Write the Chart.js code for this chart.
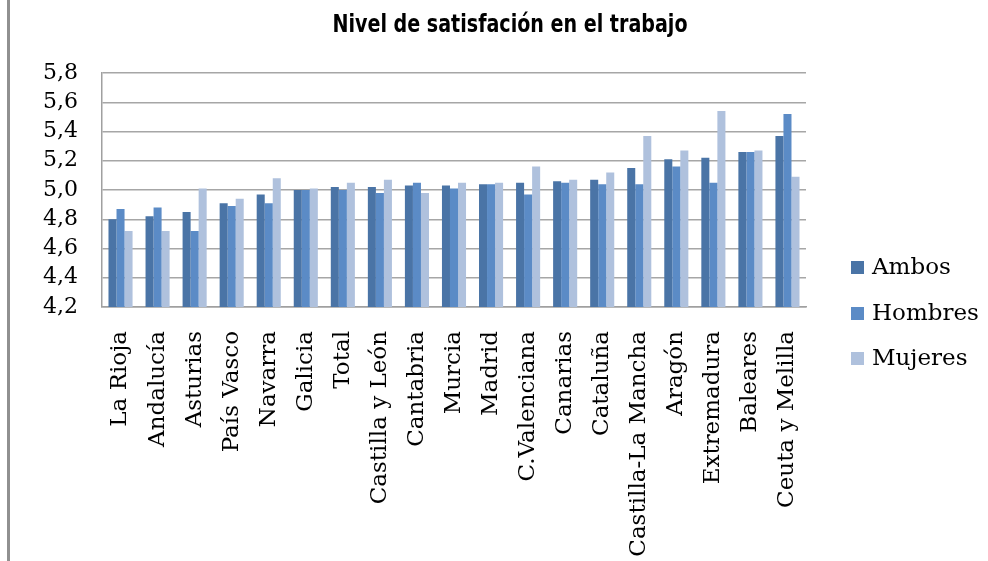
<!DOCTYPE html>
<html lang="es">
<head>
<meta charset="UTF-8">
<title>Nivel de satisfación en el trabajo</title>
<script src="https://cdn.jsdelivr.net/npm/chart.js@4.4.1/dist/chart.umd.min.js"></script>
<style>
	html, body { margin: 0; padding: 0; background: #fff; }
	#wrap { position: relative; width: 988px; height: 561px; }
	#borde { position: absolute; left: 7px; top: 0; width: 3px; height: 561px; background: #909090; }
</style>
</head>
<body>
	<div id="wrap">
		<div id="borde"></div>
		<canvas id="satchart" width="988" height="561"></canvas>
	</div>

	<script>
		// datos
		var titulo = 'Nivel de satisfación en el trabajo';
		var categorias = ['La Rioja', 'Andalucía', 'Asturias', 'País Vasco', 'Navarra', 'Galicia', 'Total',
			'Castilla y León', 'Cantabria', 'Murcia', 'Madrid', 'C.Valenciana', 'Canarias', 'Cataluña',
			'Castilla-La Mancha', 'Aragón', 'Extremadura', 'Baleares', 'Ceuta y Melilla'];
		var ambos   = [4.80, 4.82, 4.85, 4.91, 4.97, 5.00, 5.02, 5.02, 5.03, 5.03, 5.04, 5.05, 5.06, 5.07, 5.15, 5.21, 5.22, 5.26, 5.37];
		var hombres = [4.87, 4.88, 4.72, 4.89, 4.91, 5.00, 5.00, 4.98, 5.05, 5.01, 5.04, 4.97, 5.05, 5.04, 5.04, 5.16, 5.05, 5.26, 5.52];
		var mujeres = [4.72, 4.72, 5.01, 4.94, 5.08, 5.01, 5.05, 5.07, 4.98, 5.05, 5.05, 5.16, 5.07, 5.12, 5.37, 5.27, 5.54, 5.27, 5.09];
		var series = ['Ambos', 'Hombres', 'Mujeres'];
		var yMin = 4.2, yMax = 5.8, yPaso = 0.2;

		var colores = ['#4a74a6', '#5b8bc6', '#afc1dd'];
		var serif = "'DejaVu Serif', 'Liberation Serif', serif";

		// titulo (estrechado a mano) y leyenda
		var extras = {
			id : 'extras',
			afterDraw : function(chart) {
				var ctx = chart.ctx;
				ctx.save();
				ctx.fillStyle = '#000';
				ctx.textAlign = 'center';
				ctx.textBaseline = 'alphabetic';
				ctx.font = "bold 24px 'DejaVu Sans', sans-serif";
				var w = ctx.measureText(titulo).width;
				var k = 355 / w;
				ctx.translate(510, 32);
				ctx.scale(k, 1);
				ctx.fillText(titulo, 0, 0);
				ctx.restore();

				ctx.save();
				ctx.font = '23px ' + serif;
				ctx.textAlign = 'left';
				ctx.textBaseline = 'middle';
				var ys = [267, 313, 358];
				for (var i = 0; i < series.length; i++) {
					ctx.fillStyle = colores[i];
					ctx.fillRect(851, ys[i] - 6, 13, 13);
					ctx.fillStyle = '#000';
					ctx.fillText(series[i], 872, ys[i] + 1);
				}
				ctx.restore();
			}
		};

		var ctx = document.getElementById('satchart').getContext('2d');
		var chart = new Chart(ctx, {
			type : 'bar',
			data : {
				labels : categorias,
				datasets : [
					{ label : series[0], data : ambos, backgroundColor : colores[0] },
					{ label : series[1], data : hombres, backgroundColor : colores[1] },
					{ label : series[2], data : mujeres, backgroundColor : colores[2] }
				]
			},
			options : {
				responsive : false,
				animation : false,
				layout : { padding : { left : 0, top : 73, right : 182, bottom : 0 } },
				datasets : { bar : { categoryPercentage : 0.65, barPercentage : 1.0, borderWidth : 0 } },
				plugins : {
					legend : { display : false },
					title : { display : false },
					tooltip : { enabled : false }
				},
				scales : {
					x : {
						grid : { display : false, drawTicks : false },
						border : { color : '#a0a0a0', width : 1.5 },
						ticks : {
							color : '#000',
							font : { family : serif, size : 23 },
							minRotation : 90,
							maxRotation : 90,
							autoSkip : false,
							padding : 24
						},
						afterFit : function(s) { s.height = 561 - 307; }
					},
					y : {
						min : yMin,
						max : yMax,
						grid : { color : '#a6a6a6', lineWidth : 1.5, drawTicks : false },
						border : { color : '#a0a0a0', width : 1.5 },
						ticks : {
							stepSize : yPaso,
							autoSkip : false,
							color : '#000',
							font : { family : serif, size : 22 },
							padding : 24,
							callback : function(v) { return v.toFixed(1).replace('.', ','); }
						},
						afterFit : function(s) { s.width = 102; }
					}
				}
			},
			plugins : [ extras ]
		});
	</script>
</body>
</html>
